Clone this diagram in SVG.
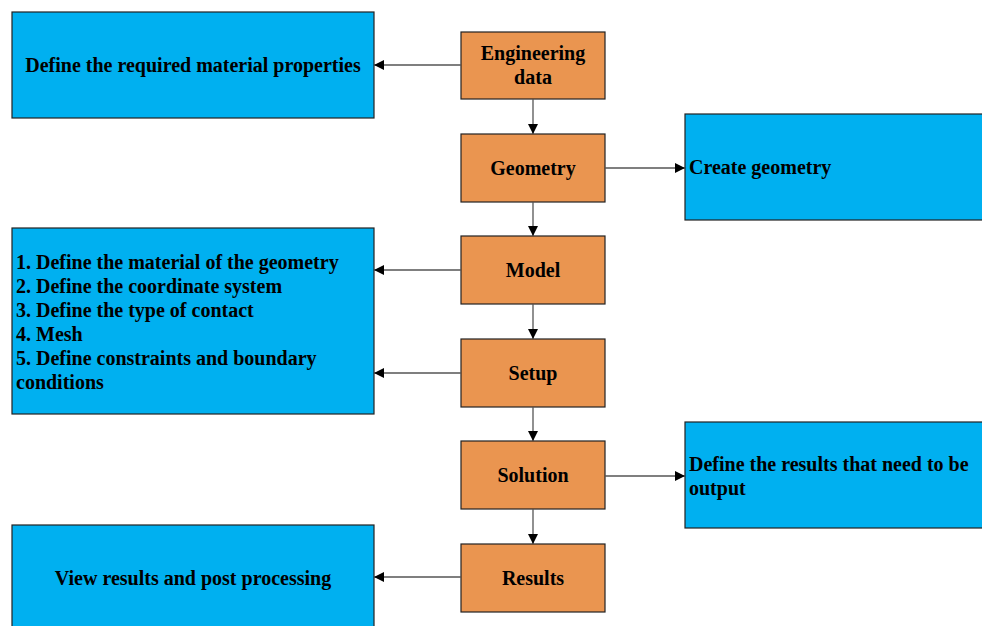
<svg xmlns="http://www.w3.org/2000/svg" width="982" height="626" viewBox="0 0 982 626">
<defs>
<style>
.o{fill:#EA9550;stroke:#222;stroke-width:1.2}
.b{fill:#00B0F0;stroke:#222;stroke-width:1.2}
text{font-family:"Liberation Serif","Times New Roman",serif;font-weight:bold;font-size:20px;fill:#000}
.c{text-anchor:middle}
.e{stroke:#555;stroke-width:1.3;fill:none;marker-end:url(#ah)}
</style>
<marker id="ah" viewBox="0 0 10 10" refX="10" refY="5" markerWidth="10" markerHeight="10" markerUnits="userSpaceOnUse" orient="auto">
<path d="M0,0 L10,5 L0,10 z" fill="#000"/>
</marker>
</defs>
<rect width="982" height="626" fill="#fff"/>
<g id="n-material"><rect class="b" x="12" y="12" width="362" height="106"/><text class="c" x="193" y="72">Define the required material properties</text></g>
<g id="n-create"><rect class="b" x="685" y="114" width="300" height="106"/><text x="689" y="174">Create geometry</text></g>
<g id="n-model-steps"><rect class="b" x="12" y="228" width="362" height="186"/>
<text x="16" y="269">1. Define the material of the geometry</text>
<text x="16" y="293">2. Define the coordinate system</text>
<text x="16" y="317">3. Define the type of contact</text>
<text x="16" y="341">4. Mesh</text>
<text x="16" y="365">5. Define constraints and boundary</text>
<text x="16" y="389">conditions</text></g>
<g id="n-output"><rect class="b" x="685" y="422" width="300" height="106"/><text x="689" y="471">Define the results that need to be</text><text x="689" y="495">output</text></g>
<g id="n-view"><rect class="b" x="12" y="525" width="362" height="106"/><text class="c" x="193" y="585">View results and post processing</text></g>
<g id="n-eng"><rect class="o" x="461" y="32" width="144" height="67"/><text class="c" x="533" y="60">Engineering</text><text class="c" x="533" y="84">data</text></g>
<g id="n-geo"><rect class="o" x="461" y="134" width="144" height="68"/><text class="c" x="533" y="175">Geometry</text></g>
<g id="n-model"><rect class="o" x="461" y="236" width="144" height="68"/><text class="c" x="533" y="277">Model</text></g>
<g id="n-setup"><rect class="o" x="461" y="339" width="144" height="68"/><text class="c" x="533" y="380">Setup</text></g>
<g id="n-sol"><rect class="o" x="461" y="441" width="144" height="68"/><text class="c" x="533" y="482">Solution</text></g>
<g id="n-res"><rect class="o" x="461" y="544" width="144" height="68"/><text class="c" x="533" y="585">Results</text></g>
<g id="connectors">
<path class="e" d="M533,99 V134"/>
<path class="e" d="M533,202 V236"/>
<path class="e" d="M533,304 V339"/>
<path class="e" d="M533,407 V441"/>
<path class="e" d="M533,509 V544"/>
<path class="e" d="M461,65 H374"/>
<path class="e" d="M605,168 H685"/>
<path class="e" d="M461,270 H374"/>
<path class="e" d="M461,373 H374"/>
<path class="e" d="M605,476 H685"/>
<path class="e" d="M461,577 H374"/>
</g>
</svg>
